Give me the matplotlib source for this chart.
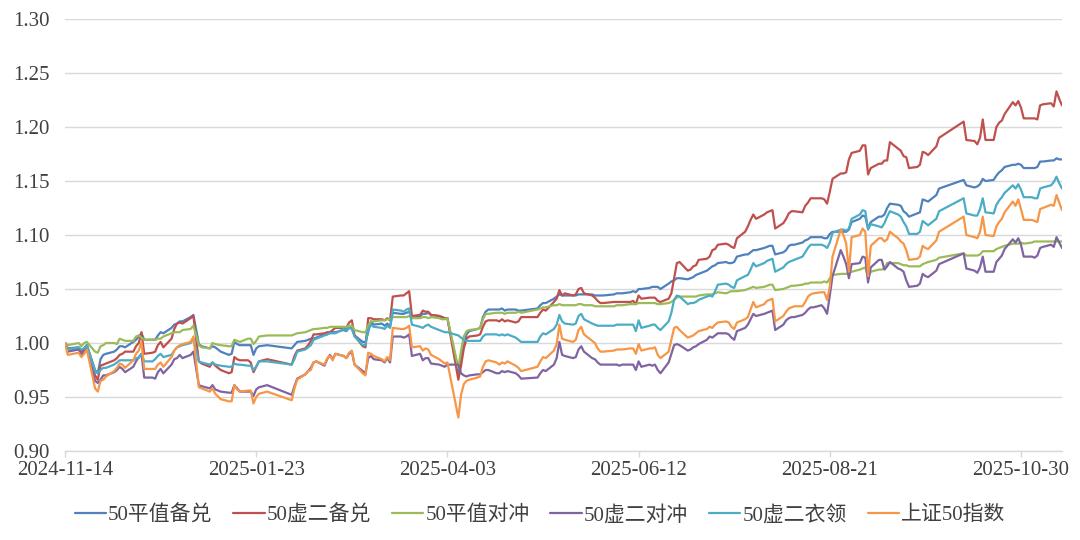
import matplotlib
matplotlib.use("Agg")
import matplotlib.pyplot as plt
import matplotlib.dates as mdates
import pandas as pd

# ---------------- data ----------------
dates = (
    ["2024-11-%s" % d for d in ["14","15","19","20","21","22","25","26","27","28","29"]] +
    ["2024-12-%s" % d for d in ["02","03","04","05","06","09","10","11","12","13","16","17","18","19","20","23","24","25","26","27","30","31"]] +
    ["2025-01-%s" % d for d in ["02","03","06","07","08","10","13","14","15","16","17","20","21","22","23","24","27"]] +
    ["2025-02-%s" % d for d in ["05","06","07","10","11","12","13","14","17","18","19","20","21","24","25","26","27","28"]] +
    ["2025-03-%s" % d for d in ["03","04","05","06","07","10","11","12","13","14","17","18","19","20","21","24","25","26","27","28","31"]] +
    ["2025-04-%s" % d for d in ["01","02","03","07","08","09","10","11","14","15","16","17","18","21","22","23","24","25","28","29","30"]] +
    ["2025-05-%s" % d for d in ["06","07","08","09","12","13","14","15","16","19","20","21","22","23","26","27","28","29","30"]] +
    ["2025-06-%s" % d for d in ["03","04","05","06","09","10","11","12","13","16","17","18","19","20","23","24","25","26","27","30"]] +
    ["2025-07-%s" % d for d in ["01","02","03","04","07","08","09","10","11","14","15","16","17","18","21","22","23","24","25","28","29","30","31"]] +
    ["2025-08-%s" % d for d in ["01","04","05","06","07","08","11","12","13","14","15","18","19","20","21","22","25","26","27","28","29"]] +
    ["2025-09-%s" % d for d in ["01","02","03","04","05","08","09","10","11","12","15","16","17","18","19","22","23","24","25","26","29","30"]] +
    ["2025-10-%s" % d for d in ["09","10","13","14","15","16","17","20","21","22","23","24","27","28","29","30","31"]] +
    ["2025-11-%s" % d for d in ["03","04","05","06","07","10","11","12","13","14"]]
)

atm_covered = [  # 50平值备兑
    1.000,0.995,0.996,0.992,0.995,0.998,0.975,0.972,0.985,0.989,0.990,
    0.992,0.994,0.997,0.997,0.996,1.001,1.003,1.006,1.009,1.003,1.003,1.003,1.007,1.010,1.009,1.014,1.017,1.018,1.020,1.020,1.024,1.026,
    0.999,0.997,0.995,0.997,0.996,0.992,0.989,0.990,1.001,0.999,0.998,0.998,0.998,0.989,0.995,0.997,0.998,
    0.995,0.998,1.001,1.002,1.003,1.004,1.004,1.005,1.008,1.008,1.010,1.010,1.010,1.012,1.011,1.014,1.014,1.007,
    1.001,1.001,1.010,1.020,1.017,1.018,1.016,1.018,1.015,1.028,1.027,1.027,1.028,1.029,1.023,1.025,1.027,1.027,1.028,1.026,1.025,
    1.024,1.023,1.023,0.973,0.985,0.998,1.008,1.011,1.013,1.014,1.024,1.029,1.031,1.031,1.031,1.032,1.030,1.031,1.031,1.030,1.030,
    1.032,1.035,1.037,1.037,1.041,1.043,1.045,1.044,1.044,1.044,1.044,1.045,1.045,1.045,1.045,1.044,1.044,1.044,1.044,
    1.045,1.046,1.046,1.046,1.047,1.048,1.047,1.050,1.050,1.051,1.052,1.052,1.052,1.050,1.055,1.057,1.058,1.060,1.060,1.059,
    1.060,1.061,1.063,1.064,1.067,1.069,1.071,1.072,1.074,1.075,1.074,1.074,1.075,1.080,1.082,1.082,1.084,1.086,1.086,1.088,1.089,1.090,1.090,
    1.082,1.084,1.086,1.090,1.091,1.091,1.093,1.095,1.096,1.098,1.098,1.098,1.097,1.097,1.101,1.103,1.103,1.103,1.103,1.105,1.112,
    1.115,1.118,1.117,1.106,1.112,1.117,1.117,1.119,1.125,1.129,1.128,1.127,1.122,1.120,1.117,1.120,1.121,1.133,1.132,1.131,1.137,1.143,
    1.151,1.146,1.144,1.145,1.147,1.152,1.150,1.151,1.155,1.158,1.160,1.163,1.165,1.165,1.166,1.165,1.162,
    1.162,1.162,1.163,1.168,1.168,1.169,1.169,1.171,1.170,1.170,
]

otm2_covered = [  # 50虚二备兑
    1.000,0.994,0.995,0.992,0.995,0.998,0.970,0.966,0.979,0.980,0.981,
    0.984,0.986,0.989,0.990,0.992,0.992,0.997,1.000,1.010,0.990,0.991,0.992,0.998,1.001,0.996,1.004,1.013,1.018,1.019,1.018,1.023,1.025,
    0.983,0.981,0.978,0.982,0.979,0.975,0.972,0.973,0.987,0.985,0.984,0.984,0.982,0.973,0.978,0.983,0.985,
    0.980,0.988,0.993,0.995,0.998,1.002,1.008,1.008,1.009,1.010,1.010,1.012,1.014,1.014,1.014,1.019,1.021,1.007,
    0.997,0.996,1.023,1.023,1.022,1.022,1.021,1.023,1.021,1.043,1.044,1.044,1.046,1.048,1.025,1.026,1.030,1.029,1.029,1.026,1.025,
    1.024,1.023,1.023,0.966,0.979,0.995,1.004,1.006,1.007,1.008,1.015,1.020,1.021,1.021,1.020,1.022,1.020,1.021,1.019,1.020,1.024,
    1.024,1.028,1.031,1.030,1.038,1.041,1.049,1.044,1.046,1.044,1.045,1.050,1.051,1.046,1.044,1.042,1.039,1.037,1.037,
    1.038,1.038,1.038,1.038,1.038,1.039,1.036,1.044,1.041,1.042,1.042,1.042,1.039,1.038,1.041,1.046,1.060,1.074,1.075,1.067,
    1.068,1.071,1.072,1.077,1.078,1.080,1.086,1.087,1.091,1.092,1.091,1.089,1.088,1.097,1.103,1.108,1.114,1.119,1.115,1.119,1.121,1.122,1.123,
    1.106,1.111,1.115,1.120,1.122,1.122,1.121,1.127,1.130,1.134,1.134,1.134,1.133,1.129,1.140,1.152,1.157,1.157,1.158,1.170,1.176,
    1.178,1.183,1.183,1.156,1.162,1.166,1.166,1.169,1.169,1.186,1.180,1.178,1.173,1.172,1.162,1.163,1.165,1.177,1.176,1.174,1.182,1.190,
    1.205,1.188,1.187,1.184,1.190,1.207,1.188,1.188,1.200,1.204,1.206,1.212,1.223,1.220,1.224,1.218,1.208,
    1.208,1.208,1.207,1.220,1.221,1.222,1.219,1.233,1.226,1.220,
]

atm_hedge = [  # 50平值对冲
    1.000,0.998,1.000,0.997,1.000,1.001,0.992,0.991,0.997,0.998,1.000,
    1.000,0.999,1.004,1.003,1.002,1.002,1.006,1.007,1.005,1.003,1.003,1.003,1.004,1.004,1.006,1.009,1.010,1.010,1.010,1.012,1.013,1.016,
    0.998,0.996,0.995,1.000,0.999,0.998,0.997,0.997,1.003,1.002,1.001,1.004,1.004,0.999,1.002,1.006,1.007,
    1.007,1.008,1.009,1.010,1.011,1.012,1.013,1.013,1.014,1.014,1.015,1.015,1.015,1.015,1.015,1.016,1.016,1.012,
    1.010,1.010,1.016,1.020,1.020,1.021,1.021,1.022,1.022,1.024,1.024,1.024,1.024,1.025,1.023,1.023,1.024,1.024,1.023,1.024,1.023,
    1.022,1.022,1.023,0.977,0.993,1.006,1.011,1.012,1.013,1.014,1.022,1.027,1.027,1.028,1.028,1.028,1.027,1.028,1.028,1.029,1.028,
    1.031,1.032,1.033,1.033,1.035,1.035,1.036,1.035,1.035,1.035,1.035,1.036,1.036,1.035,1.035,1.034,1.034,1.034,1.034,
    1.034,1.035,1.035,1.035,1.036,1.036,1.036,1.037,1.037,1.037,1.037,1.037,1.036,1.036,1.037,1.038,1.040,1.042,1.043,1.043,
    1.043,1.043,1.043,1.044,1.045,1.045,1.045,1.046,1.047,1.046,1.047,1.048,1.048,1.048,1.049,1.050,1.051,1.052,1.051,1.052,1.053,1.054,1.054,
    1.049,1.050,1.051,1.052,1.053,1.053,1.054,1.055,1.055,1.056,1.056,1.056,1.057,1.056,1.060,1.063,1.064,1.064,1.064,1.065,1.066,
    1.068,1.069,1.070,1.061,1.066,1.068,1.068,1.069,1.074,1.074,1.074,1.073,1.072,1.072,1.071,1.071,1.071,1.073,1.074,1.075,1.077,1.079,
    1.083,1.081,1.081,1.081,1.082,1.085,1.085,1.085,1.087,1.088,1.089,1.090,1.092,1.092,1.092,1.093,1.092,
    1.093,1.094,1.094,1.094,1.094,1.094,1.094,1.094,1.094,1.094,
]

otm2_hedge = [  # 50虚二对冲
    1.000,0.992,0.994,0.989,0.993,0.996,0.965,0.963,0.966,0.970,0.970,
    0.973,0.975,0.978,0.976,0.973,0.978,0.983,0.987,0.990,0.968,0.968,0.967,0.973,0.976,0.972,0.980,0.985,0.986,0.989,0.986,0.989,0.992,
    0.961,0.960,0.958,0.961,0.957,0.955,0.954,0.954,0.961,0.958,0.955,0.955,0.955,0.951,0.957,0.959,0.961,
    0.952,0.960,0.967,0.971,0.974,0.977,0.982,0.983,0.979,0.985,0.989,0.985,0.990,0.988,0.986,0.990,0.992,0.980,
    0.974,0.972,0.986,0.988,0.985,0.984,0.982,0.986,0.982,1.006,1.006,1.005,1.006,1.008,0.988,0.990,0.984,0.986,0.986,0.981,0.980,
    0.979,0.978,0.980,0.980,0.972,0.970,0.969,0.970,0.971,0.971,0.973,0.975,0.975,0.972,0.972,0.974,0.973,0.974,0.972,0.970,0.967,
    0.968,0.972,0.975,0.974,0.980,0.986,1.001,0.989,0.988,0.986,0.987,0.994,0.997,0.992,0.986,0.985,0.982,0.980,0.980,
    0.980,0.980,0.979,0.980,0.980,0.980,0.975,0.983,0.978,0.980,0.979,0.980,0.975,0.972,0.982,0.990,0.998,0.999,0.998,0.993,
    0.994,0.996,0.997,0.999,1.003,1.006,1.005,1.007,1.009,1.009,1.008,1.005,1.003,1.011,1.014,1.017,1.022,1.027,1.025,1.027,1.028,1.029,1.030,
    1.012,1.017,1.021,1.023,1.024,1.024,1.026,1.028,1.031,1.033,1.033,1.035,1.032,1.027,1.044,1.062,1.086,1.080,1.073,1.060,1.073,
    1.074,1.080,1.079,1.056,1.070,1.077,1.077,1.068,1.071,1.075,1.069,1.068,1.066,1.058,1.052,1.053,1.055,1.064,1.062,1.061,1.067,1.073,
    1.083,1.069,1.067,1.065,1.070,1.080,1.066,1.066,1.075,1.078,1.081,1.087,1.096,1.093,1.097,1.091,1.080,
    1.080,1.079,1.081,1.088,1.089,1.091,1.089,1.098,1.093,1.088,
]

otm2_collar = [  # 50虚二衣领
    1.000,0.994,0.996,0.994,0.995,0.998,0.974,0.972,0.975,0.977,0.977,
    0.980,0.982,0.984,0.984,0.984,0.984,0.986,0.986,0.990,0.983,0.983,0.985,0.988,0.990,0.987,0.989,0.993,0.996,0.997,0.998,1.000,1.004,
    0.983,0.982,0.980,0.982,0.980,0.979,0.978,0.978,0.981,0.980,0.980,0.979,0.979,0.975,0.978,0.983,0.983,
    0.980,0.985,0.992,0.994,0.996,0.998,1.003,1.004,1.007,1.008,1.009,1.009,1.009,1.013,1.012,1.014,1.013,1.006,
    0.998,0.998,1.013,1.017,1.015,1.014,1.013,1.016,1.014,1.031,1.030,1.029,1.031,1.032,1.017,1.015,1.014,1.016,1.017,1.015,1.012,
    1.011,1.010,1.010,1.007,1.005,1.003,1.002,1.002,1.002,1.002,1.006,1.008,1.008,1.008,1.007,1.008,1.007,1.008,1.005,1.003,1.001,
    1.001,1.006,1.009,1.008,1.013,1.017,1.026,1.020,1.018,1.017,1.018,1.025,1.027,1.022,1.018,1.017,1.016,1.016,1.016,
    1.016,1.017,1.017,1.017,1.017,1.017,1.011,1.021,1.014,1.016,1.017,1.017,1.014,1.012,1.020,1.028,1.040,1.044,1.043,1.036,
    1.037,1.037,1.038,1.040,1.043,1.044,1.043,1.048,1.054,1.055,1.054,1.052,1.051,1.058,1.062,1.063,1.068,1.074,1.071,1.074,1.076,1.077,1.078,
    1.066,1.070,1.073,1.075,1.076,1.077,1.080,1.084,1.088,1.091,1.091,1.091,1.090,1.088,1.093,1.102,1.105,1.105,1.104,1.106,1.115,
    1.119,1.123,1.122,1.105,1.110,1.108,1.107,1.111,1.117,1.122,1.119,1.117,1.112,1.108,1.101,1.101,1.103,1.113,1.111,1.109,1.115,1.122,
    1.134,1.120,1.118,1.118,1.124,1.134,1.121,1.120,1.128,1.132,1.135,1.139,1.146,1.143,1.147,1.142,1.135,
    1.135,1.134,1.134,1.143,1.144,1.146,1.149,1.154,1.148,1.143,
]

sse50 = [  # 上证50指数
    1.000,0.989,0.991,0.987,0.990,0.994,0.958,0.955,0.965,0.966,0.969,
    0.974,0.977,0.981,0.980,0.977,0.984,0.990,0.993,1.001,0.976,0.976,0.976,0.980,0.982,0.978,0.987,0.993,0.996,0.998,0.999,1.001,1.006,
    0.959,0.958,0.955,0.958,0.953,0.948,0.946,0.946,0.961,0.957,0.955,0.956,0.956,0.944,0.950,0.953,0.955,
    0.947,0.958,0.966,0.971,0.974,0.975,0.982,0.983,0.980,0.986,0.988,0.984,0.990,0.988,0.986,0.991,0.993,0.980,
    0.972,0.970,0.991,0.990,0.988,0.985,0.983,0.987,0.984,1.014,1.013,1.013,1.014,1.016,0.996,0.997,0.993,0.995,0.994,0.989,0.985,
    0.983,0.981,0.982,0.931,0.952,0.962,0.965,0.966,0.968,0.969,0.978,0.983,0.984,0.982,0.980,0.982,0.981,0.983,0.979,0.977,0.974,
    0.978,0.983,0.987,0.986,0.993,0.999,1.017,1.004,1.003,1.001,1.003,1.012,1.015,1.008,1.002,1.000,0.995,0.992,0.992,
    0.993,0.994,0.994,0.994,0.995,0.995,0.990,0.999,0.993,0.995,0.995,0.996,0.989,0.986,0.992,1.003,1.014,1.015,1.012,1.005,
    1.006,1.007,1.009,1.011,1.013,1.015,1.014,1.017,1.019,1.020,1.019,1.015,1.013,1.019,1.022,1.024,1.031,1.038,1.033,1.036,1.039,1.040,1.041,
    1.020,1.025,1.029,1.032,1.033,1.034,1.034,1.038,1.043,1.045,1.046,1.047,1.047,1.040,1.052,1.080,1.105,1.100,1.092,1.066,1.098,
    1.100,1.106,1.103,1.062,1.090,1.097,1.097,1.094,1.096,1.103,1.097,1.094,1.092,1.086,1.077,1.078,1.080,1.090,1.088,1.087,1.095,1.103,
    1.117,1.100,1.098,1.097,1.103,1.117,1.100,1.099,1.108,1.112,1.115,1.121,1.131,1.127,1.133,1.124,1.114,
    1.114,1.113,1.112,1.124,1.125,1.128,1.127,1.137,1.130,1.123,
]

series_names = ["50平值备兑", "50虚二备兑", "50平值对冲", "50虚二对冲", "50虚二衣领", "上证50指数"]
series_values = [atm_covered, otm2_covered, atm_hedge, otm2_hedge, otm2_collar, sse50]
series_colors = ["#4F81BD", "#C0504D", "#9BBB59", "#8064A2", "#4BACC6", "#F79646"]

x_start, x_end = "2024-11-14", "2025-11-14"
tick_dates = pd.date_range(x_start, periods=6, freq="70D")
y_ticks = [0.90, 0.95, 1.00, 1.05, 1.10, 1.15, 1.20, 1.25, 1.30]

# ---------------- drawing ----------------
FONT = ["Liberation Serif", "Noto Sans CJK SC", "DejaVu Sans"]
plt.rcParams["font.family"] = FONT
TXT = "#404040"
GRID = "#D9D9D9"

fig = plt.figure(figsize=(10.8, 5.4), dpi=100)
ax = fig.add_axes([0.0602, 0.1648, 0.9231, 0.8000])

x = pd.to_datetime(dates)
for name, vals, col in zip(series_names, series_values, series_colors):
    assert len(vals) == len(x), (name, len(vals), len(x))
    ax.plot(x, vals, color=col, lw=1.6, label=name,
            solid_joinstyle="round", solid_capstyle="round")

ax.set_xlim(pd.Timestamp(x_start), pd.Timestamp(x_end))
ax.set_ylim(y_ticks[0], y_ticks[-1])
ax.set_yticks(y_ticks)
ax.set_yticklabels(["%.2f" % v for v in y_ticks])
ax.set_xticks(tick_dates)
ax.xaxis.set_major_formatter(mdates.DateFormatter("%Y-%m-%d"))

ax.grid(axis="y", color=GRID, lw=1.0)
ax.set_axisbelow(True)
for s in ["top", "right", "left"]:
    ax.spines[s].set_visible(False)
ax.spines["bottom"].set_color(GRID)
ax.spines["bottom"].set_linewidth(1.0)

ax.tick_params(axis="y", length=0, pad=11, labelsize=15, labelcolor=TXT)
ax.tick_params(axis="x", length=4.5, width=1.0, color=GRID, direction="out",
               pad=3, labelsize=15, labelcolor=TXT)

leg = fig.legend(loc="center", bbox_to_anchor=(0.5, 0.046), ncol=6, frameon=False,
                 fontsize=15, handlelength=1.5, handletextpad=0.1,
                 columnspacing=1.0, prop={"family": FONT, "size": 15})
for t in leg.get_texts():
    t.set_color(TXT)

fig.savefig("out.png", dpi=100)
